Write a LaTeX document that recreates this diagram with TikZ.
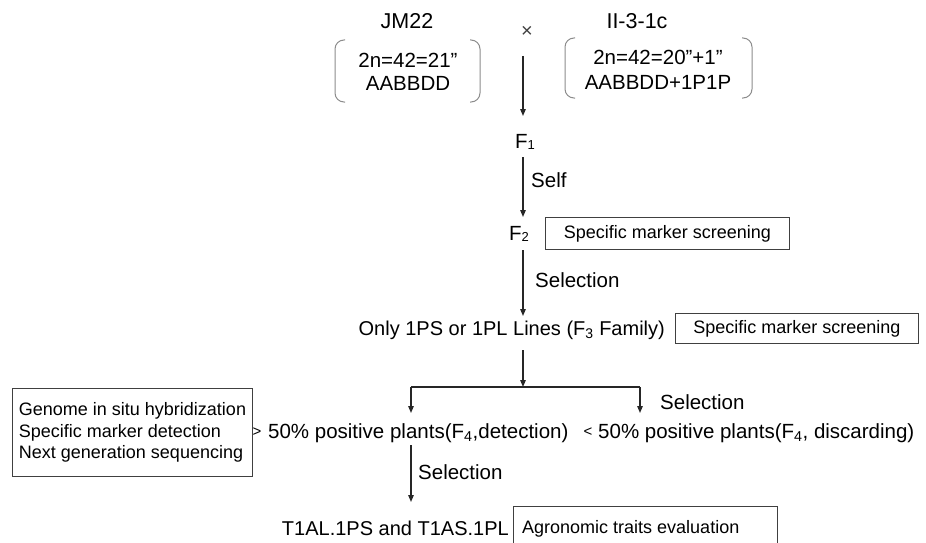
\documentclass[tikz,border=0pt]{standalone}
\usepackage{fontspec}
\setmainfont{Liberation Sans}
\usetikzlibrary{arrows.meta}
\newcommand{\lowsub}[1]{\raisebox{-1pt}{\fontsize{13}{13}\selectfont #1}}
\begin{document}
\begin{tikzpicture}[x=1pt,y=-1pt,
  lbl/.style={inner sep=0pt, font=\fontsize{20.5}{24}\selectfont},
  big/.style={inner sep=0pt, font=\fontsize{21.5}{25}\selectfont},
  small/.style={inner sep=0pt, font=\fontsize{15}{18}\selectfont},
  boxtxt/.style={font=\fontsize{18}{21.5}\selectfont},
  arr/.style={line width=1.3pt, draw=black!85, -{Triangle[length=7pt,width=5.5pt]}},
  ln/.style={line width=1.3pt, draw=black!85},
  tbox/.style={draw=black!75, line width=1pt},
  brk/.style={draw=black!45, line width=1pt, rounded corners=9pt}]
\useasboundingbox (0,0) rectangle (926,543);

% parents
\node[big, anchor=base] (jm) at (407,29) {JM22};
\node[inner sep=0pt, font=\fontsize{20}{20}\selectfont, text=black!75] (cross) at (527,32) {×};
\node[big, anchor=base] (ii) at (637,29) {II-3-1c};
\node[lbl, anchor=base] (pa1) at (408,67) {2n=42=21”};
\node[lbl, anchor=base] (pa2) at (408,90) {AABBDD};
\node[lbl, anchor=base] (pb1) at (658,64) {2n=42=20”+1”};
\node[lbl, anchor=base] (pb2) at (658,89) {AABBDD+1P1P};
\draw[brk] (345,40) -- (335,40) -- (335,102) -- (345,102);
\draw[brk] (470,40) -- (480,40) -- (480,102) -- (470,102);
\draw[brk] (575,38) -- (565,38) -- (565,98) -- (575,98);
\draw[brk] (742,38) -- (752,38) -- (752,98) -- (742,98);

% F1, F2
\coordinate (c0) at (523,56);
\coordinate (c1) at (523,116);
\node[lbl, anchor=base west] (F1) at (515,148) {F\lowsub{1}};
\coordinate (c2) at (523,157);
\coordinate (c3) at (523,217);
\node[lbl, anchor=base west] (self) at (531,187) {Self};
\node[lbl, anchor=base west] (F2) at (509,240) {F\lowsub{2}};
\node[tbox, boxtxt, anchor=north west, minimum width=244pt, minimum height=32pt] (scr1) at (545,217) {Specific marker screening};
\draw[arr] (c0) -- (c1);
\draw[arr] (c2) -- (c3);

% F3
\coordinate (c4) at (523,250);
\coordinate (c5) at (523,316);
\draw[arr] (c4) -- (c5);
\node[lbl, anchor=base west] (sel1) at (535,287) {Selection};
\node[inner sep=0pt, font=\fontsize{20}{24}\selectfont, anchor=base east] (F3) at (665,335) {Only 1PS or 1PL Lines (F\textsubscript{3} Family)};
\node[tbox, boxtxt, anchor=north west, minimum width=243pt, minimum height=30pt] (scr2) at (675,313) {Specific marker screening};

% branch
\coordinate (c6) at (523,350);
\coordinate (c7) at (523,387);
\coordinate (bl) at (411,387);
\coordinate (br) at (640,387);
\coordinate (bl2) at (411,413);
\coordinate (br2) at (640,413);
\draw[arr] (c6) -- (c7);
\draw[ln] (bl) -- (br);
\draw[arr] (bl) -- (bl2);
\draw[arr] (br) -- (br2);
\node[lbl, anchor=base west] (sel2) at (660,409) {Selection};

% F4
\node[tbox, boxtxt, align=left, anchor=north west, minimum width=240pt, minimum height=88pt, inner xsep=6pt] (meth) at (12,388) {Genome in situ hybridization\\Specific marker detection\\Next generation sequencing};
\node[small] (gt) at (257,432) {>};
\node[lbl, anchor=base west] (pos) at (268,438) {50\% positive plants(F\textsubscript{4},detection)};
\node[small] (lt) at (588,432) {<};
\node[lbl, anchor=base west] (neg) at (598,438) {50\% positive plants(F\textsubscript{4}, discarding)};

% final
\coordinate (c8) at (411,445);
\coordinate (c9) at (411,502);
\draw[arr] (c8) -- (c9);
\node[lbl, anchor=base west] (sel3) at (418,479) {Selection};
\node[inner sep=0pt, font=\fontsize{20}{24}\selectfont, anchor=base east] (T1) at (509,535) {T1AL.1PS and T1AS.1PL};
\node[tbox, anchor=north west, minimum width=264pt, minimum height=50pt] (agb) at (513,506) {};
\node[inner sep=0pt, font=\fontsize{18}{21.5}\selectfont, anchor=base west] (agt) at (522,533) {Agronomic traits evaluation};
\end{tikzpicture}
\end{document}
